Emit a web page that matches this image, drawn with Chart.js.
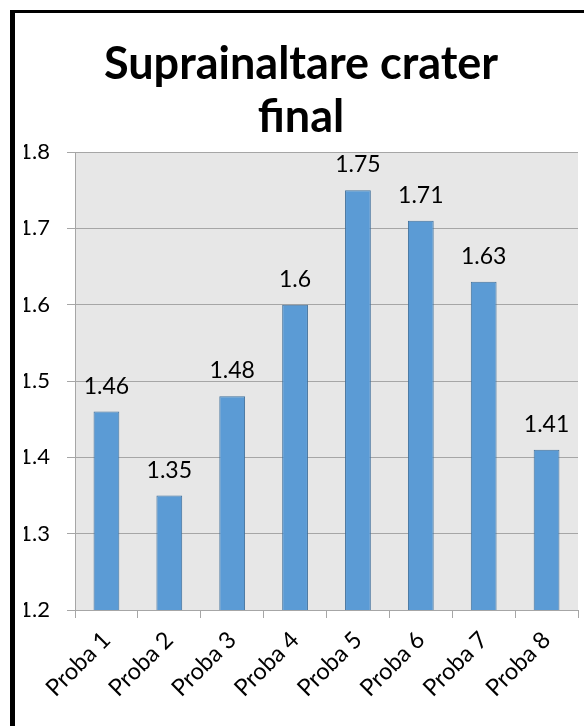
<!DOCTYPE html>
<html>
<head>
<meta charset="utf-8">
<script src="https://cdn.jsdelivr.net/npm/chart.js@4.4.1/dist/chart.umd.min.js"></script>
<style>
  html, body { margin: 0; padding: 0; background: #fff; overflow: hidden; }
  #wrap { position: relative; width: 584px; height: 726px; }
  #frame {
    position: absolute; left: 10px; top: 10px; width: 700px; height: 800px;
    border-left: 5px solid #000; border-top: 3px solid #000; box-sizing: border-box;
  }
  canvas { position: absolute; left: 0; top: 0; }
</style>
</head>
<body>
<div id="wrap">
  <div id="frame"></div>
  <canvas id="c" width="584" height="726"></canvas>
</div>
<script>
// Chart data
const titleLines = ['Suprainaltare crater', 'final'];
const categories = ['Proba 1', 'Proba 2', 'Proba 3', 'Proba 4', 'Proba 5', 'Proba 6', 'Proba 7', 'Proba 8'];
const values = [1.46, 1.35, 1.48, 1.6, 1.75, 1.71, 1.63, 1.41];
const yTicks = [1.2, 1.3, 1.4, 1.5, 1.6, 1.7, 1.8];

const FONT = 'Lato, "Open Sans", sans-serif';
const GRID = '#a6a6a6';

// Grey fill behind the plotting area
const plotBackground = {
  id: 'plotBackground',
  beforeDraw(chart) {
    const { ctx, chartArea: a } = chart;
    ctx.save();
    ctx.fillStyle = '#e7e7e7';
    ctx.fillRect(a.left, a.top, a.right - a.left, a.bottom - a.top);
    ctx.restore();
  }
};

// Value written above each bar
const valueLabels = {
  id: 'valueLabels',
  afterDatasetsDraw(chart) {
    const { ctx } = chart;
    const meta = chart.getDatasetMeta(0);
    ctx.save();
    ctx.font = '23px ' + FONT;
    ctx.fillStyle = '#000';
    ctx.textAlign = 'center';
    ctx.textBaseline = 'alphabetic';
    meta.data.forEach((bar, i) => {
      ctx.fillText(String(values[i]), bar.x, bar.y - 18);
    });
    ctx.restore();
  }
};

function draw() {
  new Chart(document.getElementById('c'), {
    type: 'bar',
    data: {
      labels: categories,
      datasets: [{
        data: values,
        backgroundColor: '#5b9bd5',
        borderColor: '#41719c',
        borderWidth: 1,
        categoryPercentage: 1,
        barPercentage: 0.41
      }]
    },
    options: {
      responsive: false,
      animation: false,
      layout: { padding: { left: 24, right: 6, top: 0, bottom: 0 } },
      plugins: {
        legend: { display: false },
        tooltip: { enabled: false },
        title: {
          display: true,
          text: titleLines,
          color: '#000',
          font: { family: FONT, size: 45, weight: 'bold', lineHeight: 1.18 },
          padding: { top: 38, bottom: 7.8 }
        }
      },
      scales: {
        x: {
          afterFit(scale) { scale.height = 116; },
          grid: {
            offset: true,
            drawOnChartArea: false,
            drawTicks: true,
            tickLength: 8,
            tickColor: GRID
          },
          border: { display: true, color: GRID, width: 1 },
          ticks: {
            color: '#000',
            font: { family: FONT, size: 23.5 },
            maxRotation: 45,
            minRotation: 45,
            padding: 8
          }
        },
        y: {
          min: 1.2,
          max: 1.8,
          afterFit(scale) { scale.width = 51; },
          afterBuildTicks(scale) { scale.ticks = yTicks.map(v => ({ value: v })); },
          grid: {
            color: GRID,
            drawTicks: true,
            tickLength: 8,
            tickColor: GRID
          },
          border: { display: true, color: GRID, width: 1 },
          ticks: {
            color: '#000',
            font: { family: FONT, size: 22 },
            padding: 17,
            callback: (v) => String(Math.round(v * 10) / 10)
          }
        }
      }
    },
    plugins: [plotBackground, valueLabels]
  });
}

(document.fonts && document.fonts.load ? document.fonts.load('bold 45px Lato') : Promise.resolve())
  .then(draw, draw);
</script>
</body>
</html>
